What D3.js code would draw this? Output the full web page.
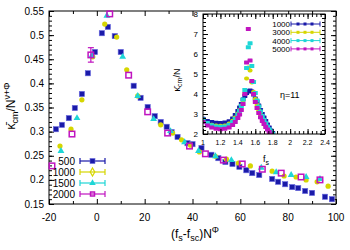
<!DOCTYPE html>
<html>
<head>
<meta charset="utf-8">
<script src="https://cdn.jsdelivr.net/npm/d3@7"></script>
<style>
body { margin: 0; background: #fff; }
text { font-family: "Liberation Sans", Arial, sans-serif; fill: #000; }
</style>
</head>
<body>
<svg width="350" height="250"></svg>
<script>
// main plot, one array pair per chain length
var x500 = [-17.1,-14.6,-11.7,-9.2,-6.25,-3.75,-0.8,2.1,4.6,7.5,10.0,15.4,18.3,21.25,24.2,26.7,29.2,31.25,33.75,37.9,40.0,43.75,47.9,50.8,53.75,56.7,59.6,62.5,65.0,67.9,73.3,75.8,78.75,81.7,84.2,87.1,90.0,95.4,98.3];
var y500 = [0.305,0.314,0.328,0.349,0.378,0.421,0.465,0.504,0.517,0.498,0.465,0.395,0.370,0.351,0.332,0.320,0.310,0.299,0.289,0.276,0.274,0.266,0.252,0.245,0.237,0.233,0.227,0.220,0.214,0.210,0.202,0.196,0.191,0.185,0.183,0.177,0.173,0.165,0.160];
var x1000 = [-15.4,-10.8,-6.25,-1.7,3.3,8.3,12.5,17.1,26.7,31.7,35.4,39.2,42.9,49.6,54.2,59.2,64.2,73.3,78.3,83.3,87.5,92.1,96.7];
var y1000 = [0.270,0.305,0.366,0.455,0.523,0.496,0.428,0.374,0.314,0.297,0.283,0.272,0.258,0.249,0.243,0.235,0.229,0.218,0.208,0.206,0.200,0.196,0.187];
var x1500 = [-15.0,-8.3,-2.1,4.2,10.8,17.1,23.75,30.8,36.7,42.5,49.6,56.25,68.75,75.0,81.25,87.5,93.3];
var y1500 = [0.260,0.328,0.457,0.540,0.455,0.374,0.326,0.301,0.278,0.260,0.249,0.241,0.225,0.216,0.210,0.206,0.202];
var x2000 = [-18.75,-10.4,-2.5,5.4,13.3,21.25,29.6,38.75,45.4,52.9,60.8,69.2,77.1,85.4,93.3];
var y2000 = [0.229,0.295,0.459,0.544,0.417,0.341,0.297,0.270,0.254,0.241,0.233,0.222,0.214,0.206,0.200];
var e2000 = [0.002,0.002,0.015,0.003,0.002,0.002,0.002,0.002,0.002,0.002,0.002,0.002,0.002,0.002,0.002];

// inset: kappa_cm/N against f_s
var fs = [1.00,1.05,1.10,1.15,1.20,1.25,1.30,1.34,1.37,1.40,1.42,1.44,1.46,1.48,1.50,1.52,1.54,1.56,1.58,1.60,1.62,1.64,1.66,1.68,1.70,1.72,1.74,1.76,1.78,1.80];
var k1000 = [2.76,2.65,2.60,2.56,2.55,2.57,2.64,2.78,2.95,3.15,3.32,3.50,3.72,3.90,4.05,4.14,4.17,4.12,3.98,3.78,3.62,3.42,3.20,3.00,2.82,2.65,2.48,2.32,2.18,2.05];
var k3000 = [2.62,2.52,2.46,2.42,2.41,2.43,2.52,2.66,2.82,3.02,3.20,3.42,3.70,4.05,4.77,5.33,5.17,4.57,4.10,3.75,3.45,3.18,2.95,2.75,2.58,2.42,2.28,2.15,2.05,1.95];
var k4000 = [2.72,2.55,2.44,2.38,2.36,2.38,2.46,2.60,2.76,2.98,3.16,3.40,3.72,4.20,5.30,6.34,6.54,5.40,4.60,4.05,3.68,3.38,3.12,2.90,2.70,2.54,2.38,2.24,2.12,2.00];
var k5000 = [2.60,2.42,2.32,2.26,2.24,2.26,2.33,2.45,2.60,2.80,2.98,3.20,3.50,4.00,5.58,7.25,5.68,4.65,4.00,3.60,3.30,3.05,2.84,2.65,2.50,2.35,2.22,2.10,1.98,1.90];

var mainLabels = ["500", "1000", "1500", "2000"];
var insetLabels = ["1000", "3000", "4000", "5000"];
var colors = ["#1a1aa8", "#d6d600", "#1ed6d6", "#c014c0"];

var svg = d3.select("svg");

var L = 49, R = 336, T = 11, B = 204;
var xScale = d3.scaleLinear().domain([-20, 100]).range([L, R]);
var yScale = d3.scaleLinear().domain([0.15, 0.55]).range([B, T]);

function ticks(g, scale, vals, orient, pos, len) {
  var axis = orient == "bottom" ? d3.axisBottom(scale) : orient == "top" ? d3.axisTop(scale)
    : orient == "left" ? d3.axisLeft(scale) : d3.axisRight(scale);
  axis.tickValues(vals).tickSize(-len).tickFormat("");
  var tr = (orient == "bottom" || orient == "top") ? "translate(0," + pos + ")" : "translate(" + pos + ",0)";
  var a = g.append("g").attr("transform", tr).call(axis);
  a.select(".domain").remove();
  a.selectAll("line").attr("stroke", "#000").attr("stroke-width", 1);
}

function frame(g, xs, ys, xMaj, xMin, yMaj, yMin, l, r, t, b) {
  ticks(g, xs, xMaj, "bottom", b, 5);
  ticks(g, xs, xMin, "bottom", b, 3);
  ticks(g, xs, xMaj, "top", t, 5);
  ticks(g, xs, xMin, "top", t, 3);
  ticks(g, ys, yMaj, "left", l, 5);
  ticks(g, ys, yMin, "left", l, 3);
  ticks(g, ys, yMaj, "right", r, 5);
  ticks(g, ys, yMin, "right", r, 3);
  g.append("rect").attr("x", l).attr("y", t).attr("width", r - l).attr("height", b - t)
    .attr("fill", "none").attr("stroke", "#000").attr("stroke-width", 1);
}

var mainG = svg.append("g");
frame(mainG, xScale, yScale,
  d3.range(-20, 101, 20), d3.range(-10, 100, 20),
  d3.range(0.15, 0.551, 0.05), d3.range(0.15, 0.551, 0.01),
  L, R, T, B);

mainG.selectAll(".xl").data(d3.range(-20, 101, 20)).enter().append("text")
  .attr("x", function(d){ return xScale(d); }).attr("y", B + 17)
  .attr("text-anchor", "middle").style("font-size", "10px").text(function(d){ return d; });
mainG.selectAll(".yl").data(d3.range(0.15, 0.551, 0.05)).enter().append("text")
  .attr("x", L - 5).attr("y", function(d){ return yScale(d) + 3.5; })
  .attr("text-anchor", "end").style("font-size", "10px")
  .text(function(d){ var s = d3.format(".2f")(d); return s.replace(/0$/, ""); });

var xl = svg.append("text").attr("x", 195).attr("y", 238).attr("text-anchor", "middle").style("font-size", "12px");
xl.append("tspan").text("(f");
xl.append("tspan").attr("dy", 3).style("font-size", "9px").text("s");
xl.append("tspan").attr("dy", -3).text("-f");
xl.append("tspan").attr("dy", 3).style("font-size", "9px").text("sc");
xl.append("tspan").attr("dy", -3).text(")N");
xl.append("tspan").attr("dy", -5).style("font-size", "9px").text("Φ");

var yl = svg.append("text").attr("transform", "translate(15,106) rotate(-90)")
  .attr("text-anchor", "middle").style("font-size", "12px");
yl.append("tspan").text("κ\u0304");
yl.append("tspan").attr("dy", 3).style("font-size", "9px").text("cm");
yl.append("tspan").attr("dy", -3).text("/N");
yl.append("tspan").attr("dy", -5).style("font-size", "9px").text("ν+Φ");

function marker(sel, i, size) {
  if (i == 0) {
    sel.append("rect").attr("x", -size / 2).attr("y", -size / 2).attr("width", size).attr("height", size)
      .attr("fill", colors[0]).attr("stroke", "#6a6ae0").attr("stroke-width", 0.6);
  } else if (i == 1) {
    sel.append("circle").attr("r", size / 2).attr("fill", colors[1]);
  } else if (i == 2) {
    sel.append("path").attr("d", d3.symbol(d3.symbolTriangle, size * size * 0.75)).attr("fill", colors[2]);
  } else {
    sel.append("rect").attr("x", -size / 2 + 0.5).attr("y", -size / 2 + 0.5).attr("width", size - 1).attr("height", size - 1)
      .attr("fill", "none").attr("stroke", colors[3]).attr("stroke-width", 1.5);
  }
}

var mainSeries = [[x500, y500], [x1000, y1000], [x1500, y1500], [x2000, y2000]];
mainSeries.forEach(function(s, i) {
  var pts = s[0].map(function(x, j){ return {x: x, y: s[1][j], e: i == 3 ? e2000[j] : 0}; });
  var g = mainG.append("g");
  var p = g.selectAll("g").data(pts).enter().append("g")
    .attr("transform", function(d){ return "translate(" + xScale(d.x) + "," + yScale(d.y) + ")"; });
  p.filter(function(d){ return d.e > 0.004; }).each(function(d) {
    var h = yScale(d.y - d.e) - yScale(d.y);
    var e = d3.select(this);
    e.append("line").attr("y1", -h).attr("y2", h).attr("stroke", colors[i]).attr("stroke-width", 1.2);
    e.append("line").attr("x1", -3).attr("x2", 3).attr("y1", -h).attr("y2", -h).attr("stroke", colors[i]).attr("stroke-width", 1.2);
    e.append("line").attr("x1", -3).attr("x2", 3).attr("y1", h).attr("y2", h).attr("stroke", colors[i]).attr("stroke-width", 1.2);
  });
  p.each(function() { marker(d3.select(this), i, i == 3 ? 6.5 : 5.2); });
});

// main legend
mainLabels.forEach(function(lab, i) {
  var yy = 161 + i * 11;
  mainG.append("text").attr("x", 75).attr("y", yy + 3.5).attr("text-anchor", "end").style("font-size", "10px").text(lab);
  mainG.append("line").attr("x1", 80).attr("x2", 105).attr("y1", yy).attr("y2", yy).attr("stroke", colors[i]).attr("stroke-width", 1.2);
  [80, 105].forEach(function(cx) {
    mainG.append("line").attr("x1", cx).attr("x2", cx).attr("y1", yy - 3).attr("y2", yy + 3).attr("stroke", colors[i]).attr("stroke-width", 1.2);
  });
  var m = mainG.append("g").attr("transform", "translate(92.5," + yy + ")");
  if (i == 1) {
    m.append("path").attr("d", d3.symbol(d3.symbolDiamond, 18)).attr("fill", "none").attr("stroke", colors[1]).attr("stroke-width", 1.2);
  } else marker(m, i, 5);
});

// inset
var iL = 203, iR = 325, iT = 14, iB = 134;
var ix = d3.scaleLinear().domain([1, 2.4]).range([iL, iR]);
var iy = d3.scaleLinear().domain([2, 8]).range([iB, iT]);

var inG = svg.append("g");
inG.append("rect").attr("x", iL).attr("y", iT).attr("width", iR - iL).attr("height", iB - iT).attr("fill", "#fff");
svg.append("clipPath").attr("id", "ic").append("rect").attr("x", iL).attr("y", iT).attr("width", iR - iL).attr("height", iB - iT);

var insetSeries = [k1000, k3000, k4000, k5000];
insetSeries.forEach(function(k, i) {
  var pts = fs.map(function(f, j){ return {x: f, y: k[j]}; });
  var g = inG.append("g").attr("clip-path", "url(#ic)");
  g.selectAll("rect").data(pts).enter().append("rect")
    .attr("x", function(d){ return ix(d.x) - 2.5; }).attr("y", function(d){ return iy(d.y) - 2; })
    .attr("width", 5).attr("height", 4).attr("rx", i == 1 ? 2 : 0.5)
    .attr("fill", colors[i]);
});

frame(inG, ix, iy,
  d3.range(1, 2.41, 0.2), d3.range(1, 2.41, 0.05),
  d3.range(2, 8.01, 1), d3.range(2, 8.01, 0.2),
  iL, iR, iT, iB);

inG.selectAll(".iyl").data(d3.range(2, 9, 1)).enter().append("text")
  .attr("x", iL - 5).attr("y", function(d){ return iy(d) + 3; })
  .attr("text-anchor", "end").style("font-size", "8px").text(function(d){ return d; });
inG.selectAll(".ixl").data(d3.range(1, 2.41, 0.2)).enter().append("text")
  .attr("x", function(d){ return ix(d); }).attr("y", iB + 11)
  .attr("text-anchor", "middle").style("font-size", "7px")
  .text(function(d){ return d3.format("~g")(Math.round(d * 10) / 10); });

var iyl = inG.append("text").attr("transform", "translate(180,80) rotate(-90)")
  .attr("text-anchor", "middle").style("font-size", "9px");
iyl.append("tspan").text("κ\u0304");
iyl.append("tspan").attr("dy", 2).style("font-size", "7px").text("cm");
iyl.append("tspan").attr("dy", -2).text("/N");

var fl = inG.append("text").attr("x", 263).attr("y", 162).style("font-size", "9px");
fl.append("tspan").text("f");
fl.append("tspan").attr("dy", 3).style("font-size", "7px").text("s");

inG.append("text").attr("x", 280).attr("y", 98).style("font-size", "9px").text("η=11");

insetLabels.forEach(function(lab, i) {
  var yy = 24 + i * 8.3;
  inG.append("text").attr("x", 290).attr("y", yy + 3).attr("text-anchor", "end").style("font-size", "8px").text(lab);
  inG.append("line").attr("x1", 291).attr("x2", 320).attr("y1", yy).attr("y2", yy).attr("stroke", colors[i]).attr("stroke-width", 1);
  [291, 320].forEach(function(cx) {
    inG.append("line").attr("x1", cx).attr("x2", cx).attr("y1", yy - 2.5).attr("y2", yy + 2.5).attr("stroke", colors[i]).attr("stroke-width", 1);
  });
  [298, 305, 312].forEach(function(cx) {
    inG.append("rect").attr("x", cx - 1.5).attr("y", yy - 1.5).attr("width", 3).attr("height", 3).attr("fill", colors[i]);
  });
});
</script>
</body>
</html>
